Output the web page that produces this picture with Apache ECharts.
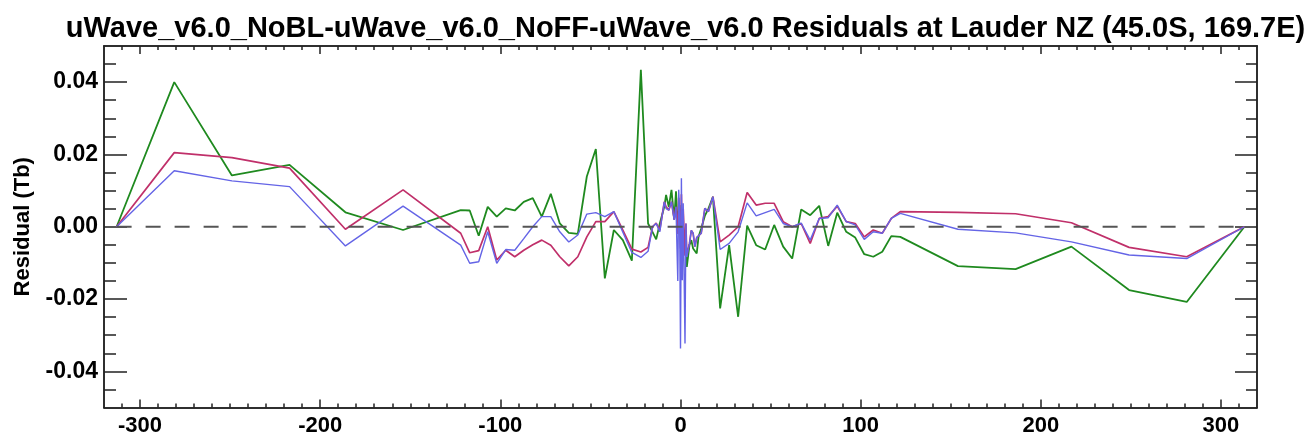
<!DOCTYPE html>
<html>
<head>
<meta charset="utf-8">
<script src="https://cdn.jsdelivr.net/npm/echarts@6/dist/echarts.min.js"></script>
<style>
html,body{margin:0;padding:0;background:#fff;}
#c{width:1311px;height:439px;}
</style>
</head>
<body>
<div id="c"></div>
<script>
const titleText = 'uWave_v6.0_NoBL-uWave_v6.0_NoFF-uWave_v6.0 Residuals at Lauder NZ (45.0S, 169.7E)';
const yName = 'Residual (Tb)';

const xs = [
  -313, -281, -249, -217, -186, -154, -122, -117, -112, -107, -102, -97, -92, -87, -82, -77, -72, -67, -62, -57, -52, -47, -42, -37, -32, -27, -22, -18,
  -15.5, -13.5, -11.5, -9, -8, -6.5, -5, -3.5, -2.5, -1.5, -1, -0.5, 0, 0.5, 1, 1.5, 2.5, 3, 3.5, 5, 6, 7, 8, 9, 10, 11.5, 13.5, 15.5,
  18, 22, 27, 32, 37, 42, 47, 52, 57, 62, 67, 72, 77, 82, 87, 92, 97, 102, 107, 112, 117, 122, 154, 186, 217, 249, 281, 313
];

const greenVals = [
  0, 0.040, 0.0142, 0.0171, 0.0040, -0.0009, 0.0046, 0.0045, -0.0025, 0.0055, 0.0028, 0.0051, 0.0045, 0.0069, 0.0079, 0.0028, 0.0091, 0.0009, -0.0017, -0.0020, 0.0139, 0.0215, -0.0143, -0.0009, -0.0037, -0.0094, 0.0434, 0.0009,
  -0.0015, -0.0035, 0.0009, 0.0055, 0.0088, 0.0055, 0.0102, 0.0020, 0.0098, -0.0009, 0.0040, 0.0060, 0.0020, -0.0020, 0.0030, -0.0040, -0.0060, -0.0080, -0.0111, -0.0050, -0.0037, -0.0060, -0.0065, -0.0074, -0.0028, -0.0005, 0.0030, 0.0050,
  0.0083, -0.0226, -0.0051, -0.0249, 0.0003, -0.0051, -0.0063, 0.0005, -0.0055, -0.0088, 0.0048, 0.0032, 0.0058, -0.0053, 0.0039, -0.0014, -0.0030, -0.0076, -0.0083, -0.0069, -0.0026, -0.0028, -0.0109, -0.0117, -0.0055, -0.0175, -0.0208, 0
];

const redVals = [
  0, 0.0205, 0.0191, 0.0162, -0.0007, 0.0102, -0.0018, -0.0072, -0.0066, 0.0000, -0.0092, -0.0065, -0.0083, -0.0065, -0.0050, -0.0037, -0.0051, -0.0083, -0.0108, -0.0083, -0.0028, 0.0014, 0.0014, 0.0042, -0.0009, -0.0062, -0.0070, -0.0057,
  0.0000, 0.0010, -0.0010, 0.0069, 0.0055, 0.0046, 0.0069, 0.0020, 0.0055, -0.0020, 0.0080, 0.0030, -0.0060, 0.0090, -0.0040, 0.0050, -0.0080, 0.0009, -0.0080, -0.0046, -0.0010, -0.0018, -0.0055, -0.0030, -0.0028, -0.0018, 0.0051, 0.0042,
  0.0083, -0.0042, -0.0023, 0.0000, 0.0095, 0.0060, 0.0065, 0.0065, 0.0014, 0.0000, 0.0009, -0.0046, 0.0023, 0.0028, 0.0057, 0.0014, 0.0009, -0.0028, -0.0009, -0.0018, 0.0023, 0.0042, 0.0040, 0.0036, 0.0011, -0.0057, -0.0083, 0
];

const blueVals = [
  0, 0.0155, 0.0127, 0.0111, -0.0053, 0.0057, -0.0051, -0.0101, -0.0097, -0.0014, -0.0101, -0.0063, -0.0065, -0.0033, 0.0000, 0.0028, 0.0028, -0.0014, -0.0042, -0.0023, 0.0035, 0.0039, 0.0028, 0.0042, -0.0015, -0.0071, -0.0085, -0.0068,
  0.0000, 0.0009, -0.0014, 0.0069, 0.0050, 0.0046, 0.0069, 0.0019, 0.0055, -0.0150, 0.0102, 0.0040, -0.0337, 0.0134, -0.0148, 0.0065, -0.0323, 0.0009, -0.0083, -0.0046, -0.0010, -0.0018, -0.0055, -0.0030, -0.0028, -0.0018, 0.0051, 0.0042,
  0.0083, -0.0063, -0.0046, -0.0014, 0.0066, 0.0030, 0.0039, 0.0048, 0.0009, 0.0000, 0.0010, -0.0037, 0.0023, 0.0025, 0.0060, 0.0014, 0.0005, -0.0035, -0.0014, -0.0018, 0.0023, 0.0037, -0.0007, -0.0017, -0.0042, -0.0078, -0.0088, 0
];

const xMajorTicks = [-300, -200, -100, 0, 100, 200, 300];
const yMajorTicks = [-0.04, -0.02, 0, 0.02, 0.04];
const xMin = -320, xMax = 320, yMin = -0.05, yMax = 0.05;

const xMinorTicks = [];
for (let v = -310; v <= 310; v += 10) xMinorTicks.push(v);
const yMinorTicks = [];
for (let k = -9; k <= 9; k++) yMinorTicks.push(+(k * 0.005).toFixed(3));

const FONT = '"Liberation Sans", Arial, Helvetica, sans-serif';
const AX = '#222';

function xAx(pos, ticks, len, labels) {
  return {
    type: 'value', position: pos, min: xMin, max: xMax, gridIndex: 0,
    axisLine: { show: true, onZero: false, lineStyle: { color: AX, width: 1.5 } },
    axisTick: { show: true, inside: true, length: len, customValues: ticks, lineStyle: { color: AX, width: 1.5 } },
    axisLabel: labels ? { show: true, customValues: ticks, margin: 7, color: '#000', fontFamily: FONT, fontWeight: 'bold', fontSize: 22, formatter: v => String(Math.round(v)) } : { show: false },
    splitLine: { show: false }
  };
}
function yAx(pos, ticks, len, labels) {
  const o = {
    type: 'value', position: pos, min: yMin, max: yMax, gridIndex: 0,
    axisLine: { show: true, onZero: false, lineStyle: { color: AX, width: 1.5 } },
    axisTick: { show: true, inside: true, length: len, customValues: ticks, lineStyle: { color: AX, width: 1.5 } },
    axisLabel: labels ? { show: true, customValues: ticks, margin: 6, color: '#000', fontFamily: FONT, fontWeight: 'bold', fontSize: 23, formatter: v => (Math.abs(v) < 1e-9 ? 0 : v).toFixed(2) } : { show: false },
    splitLine: { show: false }
  };
  if (labels) {
    o.name = yName;
    o.nameLocation = 'middle';
    o.nameRotate = 90;
    o.nameGap = 70;
    o.nameTextStyle = { color: '#000', fontFamily: FONT, fontWeight: 'bold', fontSize: 22 };
  }
  return o;
}

const toPairs = arr => xs.map((x, i) => [x, arr[i]]);

const chart = echarts.init(document.getElementById('c'), null, { renderer: 'canvas' });
chart.setOption({
  animation: false,
  backgroundColor: '#fff',
  title: {
    text: titleText, left: 680.5, top: 9, textAlign: 'center',
    textStyle: { color: '#000', fontFamily: FONT, fontWeight: 'bold', fontSize: 29 }
  },
  grid: { left: 104, right: 54, top: 46, bottom: 31.5, outerBoundsMode: 'none', containLabel: false },
  xAxis: [
    xAx('bottom', xMinorTicks, 4, false),
    xAx('bottom', xMajorTicks, 8, true),
    xAx('top', xMinorTicks, 4, false),
    xAx('top', xMajorTicks, 8, false)
  ],
  yAxis: [
    yAx('left', yMinorTicks, 12, false),
    yAx('left', yMajorTicks, 23, true),
    yAx('right', yMinorTicks, 11, false),
    yAx('right', yMajorTicks, 22, false)
  ],
  series: [
    { name: 'green', type: 'line', data: toPairs(greenVals), showSymbol: false, symbol: 'none', z: 2,
      lineStyle: { color: '#1f8a1f', width: 1.8 } },
    { name: 'red', type: 'line', data: toPairs(redVals), showSymbol: false, symbol: 'none', z: 3,
      lineStyle: { color: '#c0306a', width: 1.7 } },
    { name: 'blue', type: 'line', data: toPairs(blueVals), showSymbol: false, symbol: 'none', z: 4,
      lineStyle: { color: '#6464e6', width: 1.4 } },
    { name: 'zero', type: 'line', data: [[xs[0], 0], [xs[xs.length - 1], 0]], showSymbol: false, symbol: 'none', z: 5,
      lineStyle: { color: '#555', width: 2, type: [15, 14] } }
  ]
});
</script>
</body>
</html>
